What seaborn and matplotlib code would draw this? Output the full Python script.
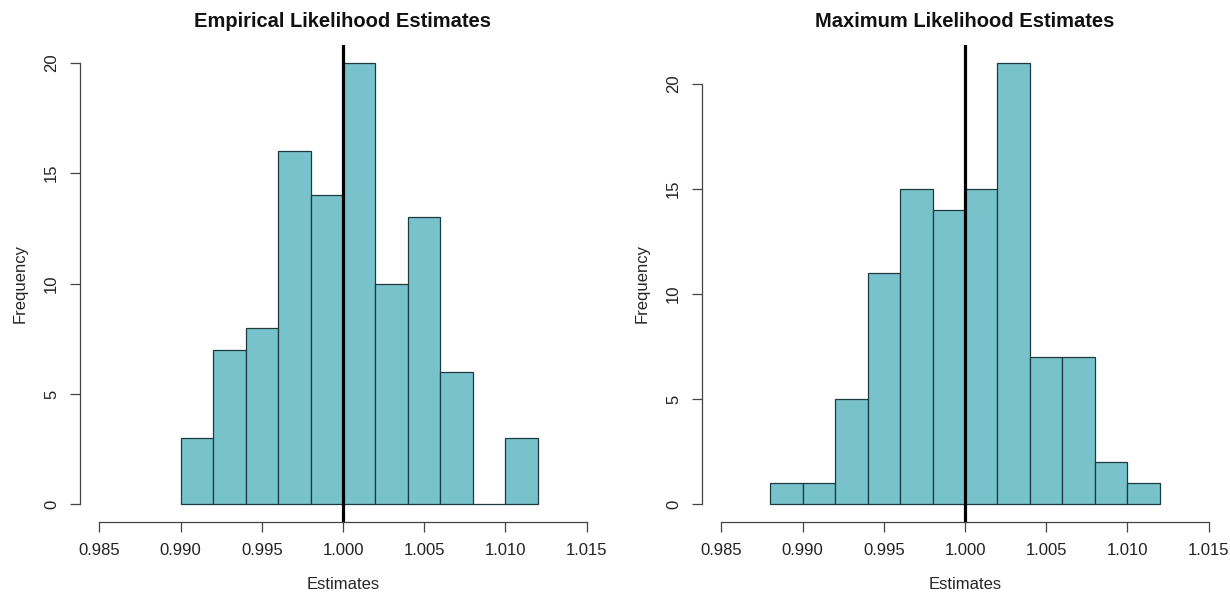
import numpy as np
import pandas as pd
import seaborn as sns
import matplotlib.pyplot as plt

sns.set_style("white")
plt.rcParams['font.family'] = ['Liberation Sans', 'DejaVu Sans']

# bin edges and counts
el_edges = [0.990, 0.992, 0.994, 0.996, 0.998, 1.000, 1.002, 1.004, 1.006, 1.008, 1.010, 1.012]
el_counts = [3, 7, 8, 16, 14, 20, 10, 13, 6, 0, 3]

ml_edges = [0.988, 0.990, 0.992, 0.994, 0.996, 0.998, 1.000, 1.002, 1.004, 1.006, 1.008, 1.010, 1.012]
ml_counts = [1, 1, 5, 11, 15, 14, 15, 21, 7, 7, 2, 1]

x_ticks = [0.985, 0.990, 0.995, 1.000, 1.005, 1.010, 1.015]
x_labels = ["0.985", "0.990", "0.995", "1.000", "1.005", "1.010", "1.015"]
y_ticks = [0, 5, 10, 15, 20]
true_value = 1.0

fill = "#78c2cc"
edge = "#1f3a3e"
axis_col = "#444444"

fig = plt.figure(figsize=(12.3, 5.92), dpi=100)
panels = [
    ("Empirical Likelihood Estimates", el_edges, el_counts, 80),
    ("Maximum Likelihood Estimates", ml_edges, ml_counts, 702),
]

for title, edges, counts, x0 in panels:
    ax = fig.add_axes([x0 / 1230, 70 / 592, 526 / 1230, 477 / 592])
    e = np.array(edges)
    df = pd.DataFrame({"est": (e[:-1] + e[1:]) / 2, "n": counts})
    sns.histplot(data=df, x="est", weights="n", bins=list(edges), ax=ax,
                 color=fill, edgecolor=edge, linewidth=0.9, alpha=1)
    ymax = max(counts)
    pad = 0.04 * ymax
    ax.set_xlim(0.985 - 0.0012, 1.015 + 0.0012)
    ax.set_ylim(-pad, ymax + pad)
    ax.axvline(true_value, color="black", linewidth=2.3)

    for s in ["top", "right"]:
        ax.spines[s].set_visible(False)
    ax.spines["left"].set_bounds(0, 20)
    ax.spines["bottom"].set_bounds(0.985, 1.015)
    for s in ["left", "bottom"]:
        ax.spines[s].set_color(axis_col)
        ax.spines[s].set_linewidth(0.9)

    ax.set_xticks(x_ticks)
    ax.set_xticklabels(x_labels)
    ax.set_yticks(y_ticks)
    ax.set_yticklabels([str(t) for t in y_ticks], rotation=90, va="center")
    ax.tick_params(axis="both", direction="out", length=7, width=0.9,
                   color=axis_col, labelsize=12, labelcolor="#222222",
                   left=True, bottom=True)
    ax.tick_params(axis="x", pad=8)
    ax.tick_params(axis="y", pad=8)

    ax.set_title(title, fontsize=14.5, fontweight="bold", pad=13, color="#111111")
    ax.set_xlabel("Estimates", fontsize=12, labelpad=14)
    ax.set_ylabel("Frequency", fontsize=12, labelpad=12)

fig.savefig("out.png", dpi=100, facecolor="white")
